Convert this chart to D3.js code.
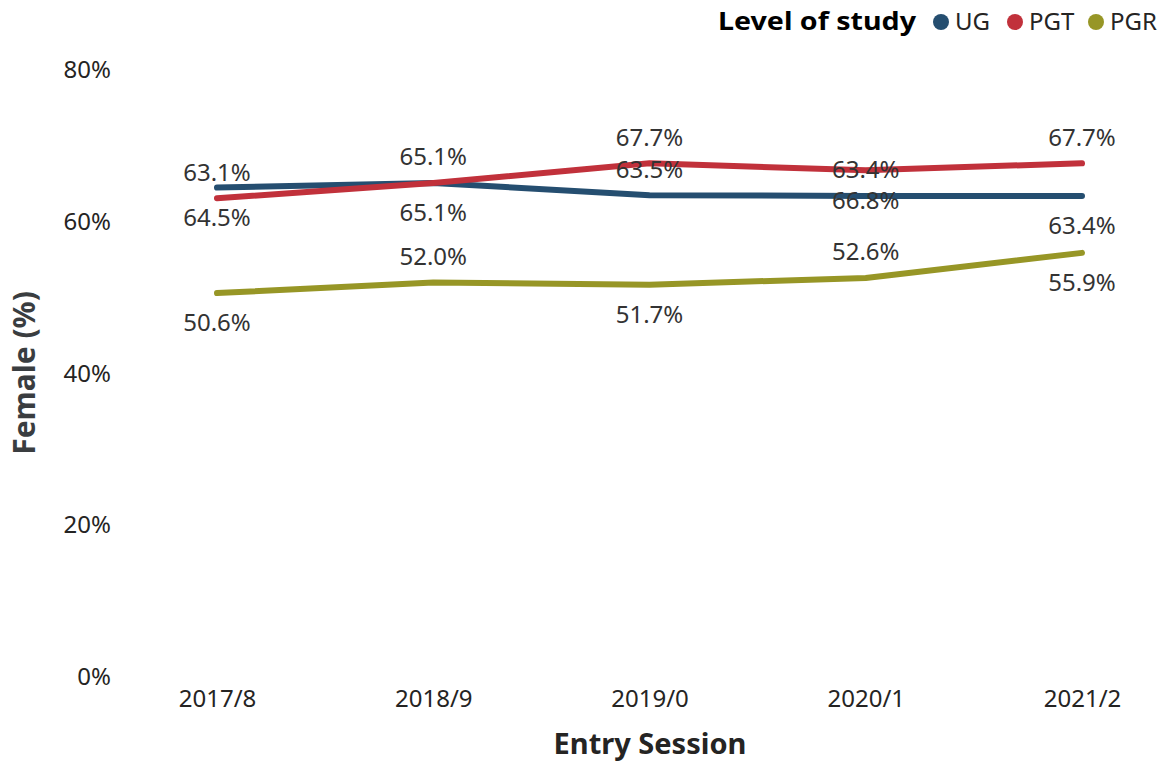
<!DOCTYPE html>
<html>
<head>
<meta charset="utf-8">
<script src="https://cdn.jsdelivr.net/npm/d3@7"></script>
<style>
  body { margin: 0; background: #fff; }
  text { font-family: "Noto Sans", "Open Sans", sans-serif; }
</style>
</head>
<body>
<div id="chart"></div>
<script>
// chart data
var sessions  = ["2017/8", "2018/9", "2019/0", "2020/1", "2021/2"];
var seriesNames = ["UG", "PGT", "PGR"];
var ugValues  = [64.5, 65.1, 63.5, 63.4, 63.4];
var pgtValues = [63.1, 65.1, 67.7, 66.8, 67.7];
var pgrValues = [50.6, 52.0, 51.7, 52.6, 55.9];
var yTicks    = [0, 20, 40, 60, 80];
// which side of the point each data label sits on
var ugLabelSide  = ["below", "below", "above", "above", "below"];
var pgtLabelSide = ["above", "above", "above", "below", "above"];
var pgrLabelSide = ["below", "above", "below", "above", "below"];

var colors = {UG: "#254E70", PGT: "#C1313B", PGR: "#979626"};

var series = [
  {name: "UG",  values: ugValues,  sides: ugLabelSide},
  {name: "PGT", values: pgtValues, sides: pgtLabelSide},
  {name: "PGR", values: pgrValues, sides: pgrLabelSide}
];

var width = 1168, height = 764;

var svg = d3.select("#chart").append("svg")
  .attr("width", width)
  .attr("height", height);

var x = d3.scalePoint()
  .domain(sessions)
  .range([217, 1082]);

var y = d3.scaleLinear()
  .domain([0, 80])
  .range([677, 70]);

// y axis
var yAxis = d3.axisLeft(y)
  .tickValues(yTicks)
  .tickSize(0)
  .tickPadding(0)
  .tickFormat(function(d) { return d + "%"; });

svg.append("g")
  .attr("class", "y axis")
  .attr("transform", "translate(111,0)")
  .call(yAxis)
  .call(function(g) { g.select(".domain").remove(); })
  .selectAll("text")
  .attr("fill", "#252423")
  .style("font-size", "24px");

// x axis
var xAxis = d3.axisBottom(x).tickSize(0).tickPadding(0);

svg.append("g")
  .attr("class", "x axis")
  .attr("transform", "translate(0,690)")
  .call(xAxis)
  .call(function(g) { g.select(".domain").remove(); })
  .selectAll("text")
  .attr("fill", "#252423")
  .style("font-size", "24px");

// axis titles
svg.append("text")
  .attr("x", 650)
  .attr("y", 754)
  .attr("text-anchor", "middle")
  .attr("fill", "#252423")
  .style("font-size", "29px")
  .style("font-weight", "bold")
  .text("Entry Session");

svg.append("text")
  .attr("transform", "translate(35,373) rotate(-90)")
  .attr("text-anchor", "middle")
  .attr("fill", "#3a3d40")
  .style("font-size", "30px")
  .style("font-weight", "bold")
  .text("Female (%)");

// lines
var line = d3.line()
  .x(function(d, i) { return x(sessions[i]); })
  .y(function(d) { return y(d); });

svg.selectAll(".series-line")
  .data(series)
  .enter().append("path")
  .attr("class", "series-line")
  .attr("d", function(d) { return line(d.values); })
  .attr("fill", "none")
  .attr("stroke", function(d) { return colors[d.name]; })
  .attr("stroke-width", 6)
  .attr("stroke-linecap", "round")
  .attr("stroke-linejoin", "round");

// data labels
series.forEach(function(s) {
  svg.selectAll(".label-" + s.name)
    .data(s.values)
    .enter().append("text")
    .attr("class", "label-" + s.name)
    .attr("x", function(d, i) { return x(sessions[i]); })
    .attr("y", function(d, i) { return y(d) + (s.sides[i] == "above" ? -26 : 30); })
    .attr("dy", "0.35em")
    .attr("text-anchor", "middle")
    .attr("fill", "#333333")
    .style("font-size", "24px")
    .text(function(d) { return d.toFixed(1) + "%"; });
});

// legend
var legend = svg.append("g").attr("class", "legend");

legend.append("text")
  .attr("x", 916)
  .attr("y", 30)
  .attr("text-anchor", "end")
  .attr("fill", "#000")
  .attr("textLength", 198)
  .attr("lengthAdjust", "spacingAndGlyphs")
  .style("font-size", "25px")
  .style("font-weight", "bold")
  .text("Level of study");

var legendX = [941, 1015, 1096];

var items = legend.selectAll(".item")
  .data(seriesNames)
  .enter().append("g")
  .attr("class", "item")
  .attr("transform", function(d, i) { return "translate(" + legendX[i] + ",22)"; });

items.append("circle")
  .attr("r", 8)
  .attr("fill", function(d) { return colors[d]; });

items.append("text")
  .attr("x", 14)
  .attr("dy", "0.35em")
  .attr("fill", "#252423")
  .style("font-size", "24px")
  .text(function(d) { return d; });
</script>
</body>
</html>
